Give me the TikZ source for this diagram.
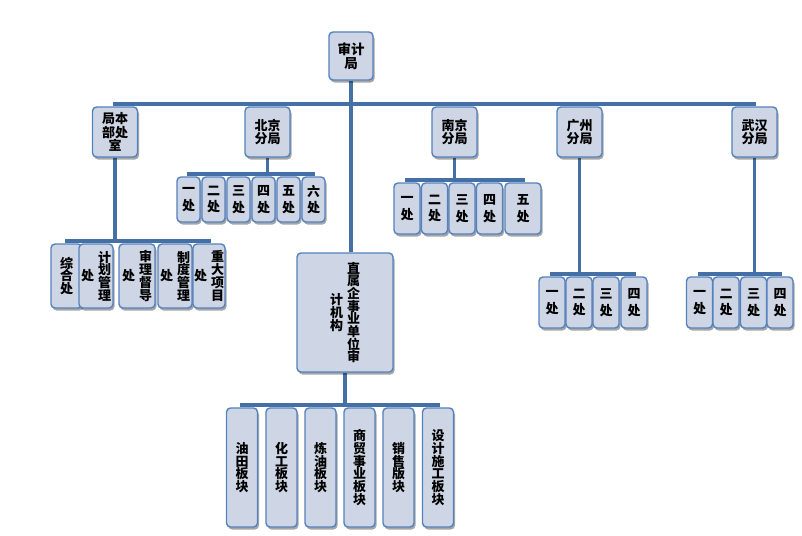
\documentclass[tikz,border=0pt]{standalone}
\usepackage{fontspec}
\newfontfamily\cjk{Noto Sans CJK SC}
\usetikzlibrary{shadows}
\definecolor{boxfill}{RGB}{206,214,229}
\definecolor{boxdraw}{RGB}{84,130,190}
\definecolor{conncol}{RGB}{68,112,166}
\newcommand\vcol[1]{$\vcenter{\baselineskip=12.7pt\lineskiplimit=-6pt\lineskip=0pt\halign{\hfil##\hfil\cr#1\crcr}}$}
\pgfdeclarelayer{bg}
\pgfsetlayers{bg,main}
\begin{document}
\begin{tikzpicture}[x=1pt,y=-1pt,
  box/.style={draw=boxdraw, fill=boxfill, line width=1.4pt, rounded corners=4pt, inner sep=0pt,
    drop shadow={shadow xshift=1.5pt, shadow yshift=-2.5pt, fill=black, opacity=0.35}},
  lvl/.style={box, minimum width=45pt, minimum height=50pt, align=center,
    font=\cjk\bfseries\fontsize{13}{13.5}\selectfont},
  ch/.style={box, align=center, font=\cjk\bfseries\fontsize{13}{16.5}\selectfont},
  vt/.style={box, font=\cjk\bfseries\fontsize{13}{12.7}\selectfont},
  conn/.style={draw=conncol, line width=3.5pt}]
\begin{pgfonlayer}{bg}
\fill[white] (0,0) rectangle (802,535);
\end{pgfonlayer}
\useasboundingbox (0,0) rectangle (802,535);

% top
\node[box, minimum width=44pt, minimum height=48pt, align=center,
  font=\cjk\bfseries\fontsize{13.5}{14}\selectfont] (top) at (351,56) {审计\\局};

% level 2
\node[lvl] (L)  at (115,132)   {局本\\部处\\室};
\node[lvl] (BJ) at (267.5,132) {北京\\分局};
\node[lvl] (NJ) at (454.5,132) {南京\\分局};
\node[lvl] (GZ) at (579.5,132) {广州\\分局};
\node[lvl] (WH) at (754.5,132) {武汉\\分局};

% Beijing children
\foreach \i/\t/\x in {1/一/188.5, 2/二/213.5, 3/三/238.5, 4/四/263.5, 5/五/288.5, 6/六/313.5}
  \node[ch, minimum width=23pt, minimum height=45pt] (bj\i) at (\x,199.5) {\t\\处};

% Nanjing children
\foreach \i/\t/\x in {1/一/407, 2/二/434.5, 3/三/462, 4/四/489.5}
  \node[ch, minimum width=26pt, minimum height=51pt] (nj\i) at (\x,208.5) {\t\\处};
\node[ch, minimum width=36pt, minimum height=51pt] (nj5) at (523,208.5) {五\\处};

% Guangzhou children
\foreach \i/\t/\x in {1/一/552, 2/二/579, 3/三/606, 4/四/634}
  \node[ch, minimum width=26pt, minimum height=51pt] (gz\i) at (\x,302.5) {\t\\处};

% Wuhan children
\foreach \i/\t/\x in {1/一/699.5, 2/二/726, 3/三/753.5, 4/四/780}
  \node[ch, minimum width=26pt, minimum height=51pt] (wh\i) at (\x,302.5) {\t\\处};

% HQ children
\node[vt, minimum width=31pt, minimum height=64pt] (l1) at (66.5,276) {\vcol{综\cr 合\cr 处}};
\node[vt, minimum width=34pt, minimum height=64pt] (l2) at (96,276) {\vcol{处}\hspace{4pt}\vcol{计\cr 划\cr 管\cr 理}};
\node[vt, minimum width=36pt, minimum height=64pt] (l3) at (137,276) {\vcol{处}\hspace{4pt}\vcol{审\cr 理\cr 督\cr 导}};
\node[vt, minimum width=34pt, minimum height=64pt] (l4) at (175,276) {\vcol{处}\hspace{4pt}\vcol{制\cr 度\cr 管\cr 理}};
\node[vt, minimum width=32pt, minimum height=64pt] (l5) at (209,276) {\vcol{处}\hspace{4pt}\vcol{重\cr 大\cr 项\cr 目}};

% directly affiliated
\node[vt, minimum width=96pt, minimum height=119pt] (ZS) at (345,312.5)
  {\vcol{计\cr 机\cr 构}\hspace{4pt}\vcol{直\cr 属\cr 企\cr 事\cr 业\cr 单\cr 位\cr 审}};

% bottom children
\node[vt, minimum width=31pt, minimum height=119pt] (b1) at (242,467.5) {\vcol{油\cr 田\cr 板\cr 块}};
\node[vt, minimum width=31pt, minimum height=119pt] (b2) at (281.5,467.5) {\vcol{化\cr 工\cr 板\cr 块}};
\node[vt, minimum width=31pt, minimum height=119pt] (b3) at (320.5,467.5) {\vcol{炼\cr 油\cr 板\cr 块}};
\node[vt, minimum width=31pt, minimum height=119pt] (b4) at (359.5,467.5) {\vcol{商\cr 贸\cr 事\cr 业\cr 板\cr 块}};
\node[vt, minimum width=31pt, minimum height=119pt] (b5) at (398.5,467.5) {\vcol{销\cr 售\cr 版\cr 块}};
\node[vt, minimum width=31pt, minimum height=119pt] (b6) at (438,467.5) {\vcol{设\cr 计\cr 施\cr 工\cr 板\cr 块}};

% connectors
\begin{pgfonlayer}{bg}
\coordinate (mb) at (351,104);
\draw[conn] (L.north) |- (mb) -| (WH.north);
\foreach \n in {BJ,NJ,GZ} \draw[conn] (\n.north) -- (\n.north |- mb);
\draw[conn] (top.south) -- (top.south |- ZS.north);

\coordinate (lb) at (0,241);
\draw[conn] (L.south) -- (L.south |- lb);
\draw[conn] (l1.north) |- (l5.north |- lb) -- (l5.north);
\foreach \i in {2,3,4} \draw[conn] (l\i.north) -- (l\i.north |- lb);

\coordinate (bjb) at (0,174);
\draw[conn] (BJ.south) -- (BJ.south |- bjb);
\draw[conn] (bj1.north) |- (bj6.north |- bjb) -- (bj6.north);
\foreach \i in {2,...,5} \draw[conn] (bj\i.north) -- (bj\i.north |- bjb);

\coordinate (njb) at (0,180);
\draw[conn] (NJ.south) -- (NJ.south |- njb);
\draw[conn] (nj1.north) |- (nj5.north |- njb) -- (nj5.north);
\foreach \i in {2,3,4} \draw[conn] (nj\i.north) -- (nj\i.north |- njb);

\coordinate (gzb) at (0,274);
\draw[conn] (GZ.south) -- (GZ.south |- gzb);
\draw[conn] (gz1.north) |- (gz4.north |- gzb) -- (gz4.north);
\foreach \i in {2,3} \draw[conn] (gz\i.north) -- (gz\i.north |- gzb);

\draw[conn] (WH.south) -- (WH.south |- gzb);
\draw[conn] (wh1.north) |- (wh4.north |- gzb) -- (wh4.north);
\foreach \i in {2,3} \draw[conn] (wh\i.north) -- (wh\i.north |- gzb);

\coordinate (zb) at (0,405);
\draw[conn] (ZS.south) -- (ZS.south |- zb);
\draw[conn] (b1.north) |- (b6.north |- zb) -- (b6.north);
\foreach \i in {2,...,5} \draw[conn] (b\i.north) -- (b\i.north |- zb);
\end{pgfonlayer}
\end{tikzpicture}
\end{document}
